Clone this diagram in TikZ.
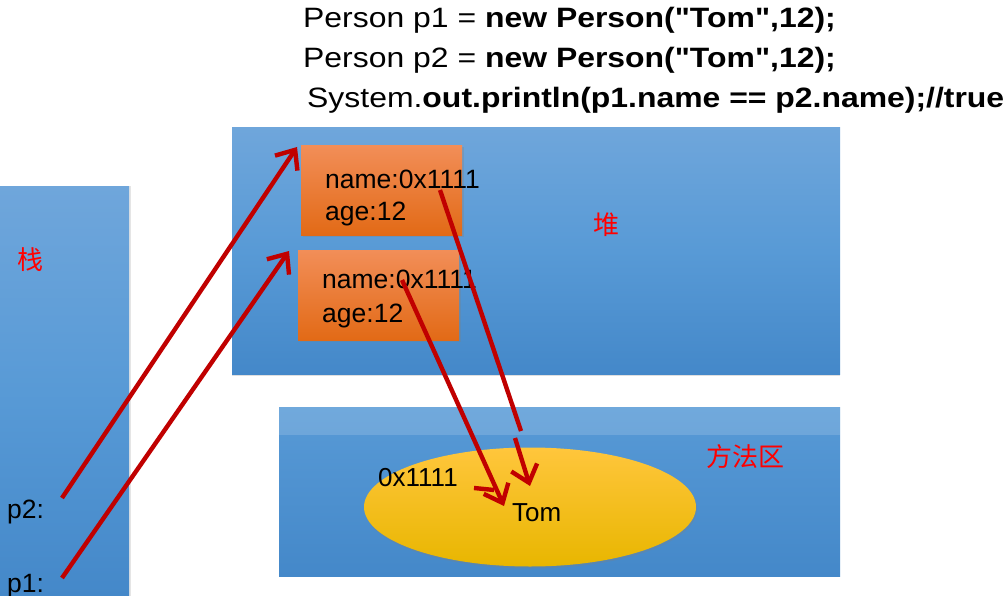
\documentclass[tikz,border=0pt]{standalone}
\usepackage{fontspec}
\setmainfont{Liberation Sans}
\newfontfamily\codefont[FakeStretch=1.14]{Liberation Sans}
\newfontfamily\cjk{Noto Sans CJK SC}
\usetikzlibrary{arrows.meta,shapes.geometric,shadows}
\definecolor{pnlTop}{RGB}{111,166,219}
\definecolor{pnlMid}{RGB}{88,154,214}
\definecolor{pnlBot}{RGB}{68,136,201}
\definecolor{orTop}{RGB}{242,142,88}
\definecolor{orMid}{RGB}{241,121,38}
\definecolor{orBot}{RGB}{226,106,22}
\definecolor{ylTop}{RGB}{255,198,60}
\definecolor{ylMid}{RGB}{255,196,0}
\definecolor{ylBot}{RGB}{232,182,0}
\definecolor{arr}{RGB}{192,0,0}
\tikzset{
  panel/.style={draw=none, inner sep=0pt, anchor=north west, top color=pnlTop, bottom color=pnlBot, middle color=pnlMid},
  pshadow/.style={drop shadow={opacity=0.25, shadow xshift=0pt, shadow yshift=-2pt}},
  objbox/.style={draw=none, inner sep=0pt, anchor=north west, minimum width=161pt, minimum height=90pt,
    top color=orTop, middle color=orMid, bottom color=orBot, drop shadow={opacity=0.3, shadow xshift=1.5pt, shadow yshift=-1.5pt}},
  txt/.style={inner sep=0pt, anchor=base west, font=\fontsize{26.5}{30}\selectfont},
  code/.style={inner sep=0pt, anchor=base west, font=\codefont\fontsize{28}{34}\selectfont},
  cjklabel/.style={inner sep=0pt, text=red, font=\cjk\fontsize{26}{30}\selectfont},
  ref/.style={draw=arr, line width=4.4pt, -{Straight Barb[length=16pt, width=27pt, line width=4.4pt]}},
  refplain/.style={draw=arr, line width=4.4pt},
}
\begin{document}
\begin{tikzpicture}[x=1pt,y=-1pt]
\useasboundingbox (0,0) rectangle (1008,596);
\fill[white] (0,0) rectangle (1008,596);

% code lines
\node[code] (l1) at (303,28) {Person p1 = \textbf{new Person("Tom",12);}};
\node[code] (l2) at (303,68) {Person p2 = \textbf{new Person("Tom",12);}};
\node[code] (l3) at (307,108) {System.\textbf{out.println(p1.name == p2.name);//true}};

% stack
\node[panel, minimum width=129pt, minimum height=410pt, drop shadow={opacity=0.2, shadow xshift=2pt, shadow yshift=0pt}] (stack) at (0,186) {};
\node[cjklabel] (zhan) at (30,260) {栈};
\node[txt] (p2) at (7,518) {p2:};
\node[txt] (p1) at (7,592) {p1:};

% heap
\node[panel, minimum width=608pt, minimum height=247pt, pshadow] (heap) at (232,127) {};
\node[cjklabel] (dui) at (606,225) {堆};
\node[objbox] (o1) at (301,145) {};
\node[objbox] (o2) at (298,250) {};
\node[txt] (o1n) at (325,188) {name:0x1111};
\node[txt] (o1a) at (325,220) {age:12};
\node[txt] (o2n) at (322,288) {name:0x1111};
\node[txt] (o2a) at (322,322) {age:12};

% method area
\node[panel, minimum width=561pt, minimum height=169pt, top color=pnlMid, middle color=pnlMid!85!pnlBot, bottom color=pnlBot] (meth) at (279,407) {};
\node[fill=white, fill opacity=0.15, inner sep=0pt, anchor=north west, minimum width=561pt, minimum height=28pt] (methband) at (279,407) {};
\node[cjklabel] (ff) at (745,457) {方法区};
\node[ellipse, draw=none, minimum width=332pt, minimum height=119pt, top color=ylTop, middle color=ylMid, bottom color=ylBot,
  drop shadow={opacity=0.3, shadow xshift=1pt, shadow yshift=-2pt}] (oval) at (530,507) {};
\node[txt, font=\fontsize{26}{30}\selectfont] (addr) at (378,486) {0x1111};
\node[txt, font=\fontsize{26}{30}\selectfont] (tom) at (512,521) {Tom};

% reference arrows
\coordinate (p2s) at (62,498);
\coordinate (p2t) at (297,147);
\coordinate (p1s) at (62,578);
\coordinate (p1t) at (289,251);
\coordinate (n1s) at (440,190);
\coordinate (n1m) at (521,431);
\coordinate (n1r) at (515,438);
\coordinate (n1t) at (530,486);
\coordinate (n2s) at (402,280);
\coordinate (n2t) at (504,506);
\coordinate (hs) at (474,488);
\coordinate (he) at (494,490);

\draw[ref] (p2s) -- (p2t);
\draw[ref] (p1s) -- (p1t);
\draw[refplain] (n1s) -- (n1m);
\draw[ref] (n1r) -- (n1t);
\draw[ref] (n2s) -- (n2t);
\draw[refplain] (hs) -- (he);
\end{tikzpicture}
\end{document}
